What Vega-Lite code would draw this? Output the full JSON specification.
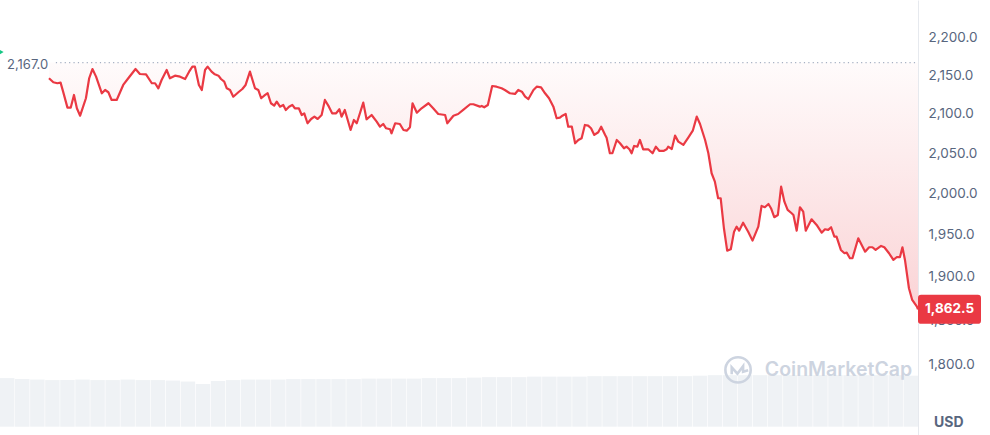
{
  "$schema": "https://vega.github.io/schema/vega-lite/v6.json",
  "width": 918,
  "height": 435,
  "padding": 0,
  "background": "white",
  "config": {
    "view": {"stroke": null},
    "font": "Inter",
    "axis": {
      "labelColor": "#58667e",
      "labelFont": "Inter",
      "labelFontSize": 13.5,
      "gridColor": "#eceff3",
      "gridWidth": 1,
      "domainColor": "#e6e9ee",
      "ticks": false,
      "tickSize": 0,
      "labelPadding": 10
    }
  },
  "datasets": {
    "price": [
      {"t":0,"p":2146.3},{"t":0.12,"p":2141.0},{"t":0.23,"p":2139.7},{"t":0.32,"p":2140.5},{"t":0.39,"p":2128.7},
      {"t":0.51,"p":2107.9},{"t":0.60,"p":2107.9},{"t":0.69,"p":2124.4},{"t":0.77,"p":2107.1},{"t":0.86,"p":2097.5},
      {"t":1.02,"p":2120.1},{"t":1.11,"p":2146.3},{"t":1.20,"p":2158.5},{"t":1.30,"p":2148.4},{"t":1.46,"p":2126.6},
      {"t":1.55,"p":2130.9},{"t":1.64,"p":2127.9},{"t":1.73,"p":2117.9},{"t":1.87,"p":2117.9},{"t":2.05,"p":2137.5},
      {"t":2.19,"p":2146.3},{"t":2.39,"p":2158.5},{"t":2.51,"p":2151.9},{"t":2.68,"p":2151.5},{"t":2.84,"p":2139.7},
      {"t":2.93,"p":2139.7},{"t":3.02,"p":2133.1},{"t":3.11,"p":2144.0},{"t":3.25,"p":2157.2},{"t":3.34,"p":2146.3},
      {"t":3.48,"p":2149.7},{"t":3.62,"p":2148.4},{"t":3.76,"p":2145.3},{"t":3.87,"p":2155.0},{"t":3.96,"p":2161.6},
      {"t":4.03,"p":2161.6},{"t":4.14,"p":2137.5},{"t":4.22,"p":2130.9},{"t":4.31,"p":2157.2},{"t":4.38,"p":2161.6},
      {"t":4.49,"p":2155.0},{"t":4.58,"p":2151.5},{"t":4.68,"p":2149.7},{"t":4.75,"p":2145.3},{"t":4.84,"p":2141.8},
      {"t":4.91,"p":2133.1},{"t":5.00,"p":2130.9},{"t":5.09,"p":2122.1},{"t":5.23,"p":2127.9},{"t":5.34,"p":2132.2},
      {"t":5.43,"p":2137.5},{"t":5.55,"p":2155.0},{"t":5.69,"p":2133.1},{"t":5.78,"p":2130.9},{"t":5.86,"p":2120.1},
      {"t":5.97,"p":2124.4},{"t":6.04,"p":2126.6},{"t":6.13,"p":2113.6},{"t":6.22,"p":2110.5},{"t":6.29,"p":2115.7},
      {"t":6.38,"p":2109.2},{"t":6.47,"p":2111.4},{"t":6.54,"p":2104.9},{"t":6.63,"p":2109.2},{"t":6.72,"p":2111.4},
      {"t":6.79,"p":2107.1},{"t":6.90,"p":2107.1},{"t":6.98,"p":2098.4},{"t":7.05,"p":2100.6},{"t":7.14,"p":2087.8},
      {"t":7.24,"p":2093.3},{"t":7.33,"p":2096.3},{"t":7.42,"p":2093.3},{"t":7.53,"p":2098.4},{"t":7.62,"p":2117.9},
      {"t":7.73,"p":2109.2},{"t":7.82,"p":2100.6},{"t":7.93,"p":2100.6},{"t":8.02,"p":2105.8},{"t":8.08,"p":2096.3},
      {"t":8.17,"p":2104.9},{"t":8.33,"p":2079.2},{"t":8.42,"p":2092.0},{"t":8.50,"p":2087.8},{"t":8.68,"p":2114.4},
      {"t":8.77,"p":2092.9},{"t":8.91,"p":2098.4},{"t":9.05,"p":2089.8},{"t":9.14,"p":2083.4},{"t":9.23,"p":2086.9},
      {"t":9.31,"p":2081.4},{"t":9.42,"p":2080.1},{"t":9.46,"p":2075.0},{"t":9.56,"p":2087.8},{"t":9.69,"p":2086.9},
      {"t":9.79,"p":2079.2},{"t":9.88,"p":2078.3},{"t":9.97,"p":2082.7},{"t":10.04,"p":2113.6},{"t":10.16,"p":2101.4},
      {"t":10.29,"p":2107.1},{"t":10.48,"p":2113.6},{"t":10.61,"p":2107.1},{"t":10.75,"p":2099.7},{"t":10.94,"p":2098.4},
      {"t":11.00,"p":2087.8},{"t":11.17,"p":2097.5},{"t":11.30,"p":2099.7},{"t":11.44,"p":2104.9},{"t":11.63,"p":2112.3},
      {"t":11.72,"p":2112.3},{"t":11.90,"p":2109.2},{"t":11.95,"p":2110.1},{"t":12.02,"p":2108.4},{"t":12.12,"p":2111.4},
      {"t":12.24,"p":2136.1},{"t":12.36,"p":2135.2},{"t":12.50,"p":2133.1},{"t":12.59,"p":2130.9},{"t":12.73,"p":2126.6},
      {"t":12.87,"p":2125.7},{"t":12.96,"p":2130.9},{"t":13.06,"p":2128.7},{"t":13.15,"p":2122.1},{"t":13.24,"p":2119.1},
      {"t":13.38,"p":2130.9},{"t":13.47,"p":2135.2},{"t":13.59,"p":2134.4},{"t":13.70,"p":2126.6},{"t":13.81,"p":2120.1},
      {"t":13.93,"p":2109.2},{"t":14.02,"p":2094.2},{"t":14.11,"p":2095.0},{"t":14.18,"p":2097.5},{"t":14.27,"p":2099.7},
      {"t":14.34,"p":2083.4},{"t":14.44,"p":2083.4},{"t":14.53,"p":2062.3},{"t":14.62,"p":2066.5},{"t":14.71,"p":2068.7},
      {"t":14.80,"p":2085.6},{"t":14.89,"p":2084.7},{"t":14.97,"p":2081.4},{"t":15.06,"p":2072.9},{"t":15.17,"p":2076.3},
      {"t":15.25,"p":2083.4},{"t":15.36,"p":2072.9},{"t":15.40,"p":2069.4},{"t":15.49,"p":2049.7},{"t":15.56,"p":2049.7},
      {"t":15.68,"p":2066.5},{"t":15.77,"p":2062.3},{"t":15.88,"p":2056.0},{"t":15.95,"p":2058.0},{"t":16.03,"p":2054.7},
      {"t":16.09,"p":2049.7},{"t":16.16,"p":2058.9},{"t":16.25,"p":2058.0},{"t":16.32,"p":2066.5},{"t":16.41,"p":2054.7},
      {"t":16.55,"p":2054.7},{"t":16.67,"p":2049.7},{"t":16.76,"p":2058.0},{"t":16.86,"p":2052.6},{"t":16.97,"p":2052.6},
      {"t":17.06,"p":2054.7},{"t":17.10,"p":2058.0},{"t":17.20,"p":2055.1},{"t":17.29,"p":2072.0},{"t":17.38,"p":2064.4},
      {"t":17.52,"p":2060.2},{"t":17.66,"p":2069.9},{"t":17.78,"p":2078.3},{"t":17.89,"p":2096.3},{"t":17.98,"p":2086.9},
      {"t":18.12,"p":2066.5},{"t":18.21,"p":2049.7},{"t":18.30,"p":2024.7},{"t":18.39,"p":2014.3},{"t":18.48,"p":1993.9},
      {"t":18.55,"p":1993.9},{"t":18.64,"p":1957.5},{"t":18.73,"p":1930.8},{"t":18.83,"p":1932.4},{"t":18.92,"p":1953.4},
      {"t":18.99,"p":1959.4},{"t":19.06,"p":1954.6},{"t":19.17,"p":1964.2},{"t":19.31,"p":1953.4},{"t":19.43,"p":1942.7},
      {"t":19.59,"p":1959.4},{"t":19.68,"p":1984.5},{"t":19.77,"p":1982.9},{"t":19.87,"p":1986.9},{"t":19.94,"p":1981.7},
      {"t":20.03,"p":1970.8},{"t":20.13,"p":1973.5},{"t":20.22,"p":2008.1},{"t":20.31,"p":1989.7},{"t":20.40,"p":1979.6},
      {"t":20.51,"p":1975.6},{"t":20.56,"p":1973.5},{"t":20.65,"p":1954.6},{"t":20.74,"p":1982.9},{"t":20.83,"p":1977.6},
      {"t":20.90,"p":1954.6},{"t":21.06,"p":1968.3},{"t":21.20,"p":1961.5},{"t":21.34,"p":1952.2},{"t":21.43,"p":1956.3},
      {"t":21.52,"p":1955.5},{"t":21.60,"p":1958.7},{"t":21.69,"p":1947.4},{"t":21.75,"p":1947.4},{"t":21.87,"p":1931.6},
      {"t":21.97,"p":1927.7},{"t":22.03,"p":1928.4},{"t":22.12,"p":1921.8},{"t":22.19,"p":1921.8},{"t":22.35,"p":1945.5},
      {"t":22.54,"p":1929.6},{"t":22.65,"p":1934.8},{"t":22.74,"p":1934.8},{"t":22.83,"p":1931.6},{"t":22.98,"p":1936.4},
      {"t":23.07,"p":1934.8},{"t":23.20,"p":1927.7},{"t":23.32,"p":1919.8},{"t":23.41,"p":1923.0},{"t":23.50,"p":1923.0},
      {"t":23.57,"p":1934.8},{"t":23.64,"p":1919.8},{"t":23.75,"p":1886.7},{"t":23.84,"p":1873.2},{"t":23.97,"p":1865.6},
      {"t":24.0,"p":1862.5}
    ],
    "vol": [
      {"i":0,"v":0.99},{"i":1,"v":0.97},{"i":2,"v":0.96},{"i":3,"v":0.95},{"i":4,"v":0.95},{"i":5,"v":0.96},
      {"i":6,"v":0.95},{"i":7,"v":0.95},{"i":8,"v":0.96},{"i":9,"v":0.95},{"i":10,"v":0.95},{"i":11,"v":0.94},
      {"i":12,"v":0.92},{"i":13,"v":0.87},{"i":14,"v":0.93},{"i":15,"v":0.95},{"i":16,"v":0.96},{"i":17,"v":0.96},
      {"i":18,"v":0.96},{"i":19,"v":0.97},{"i":20,"v":0.97},{"i":21,"v":0.97},{"i":22,"v":0.97},{"i":23,"v":0.97},
      {"i":24,"v":0.98},{"i":25,"v":0.98},{"i":26,"v":0.98},{"i":27,"v":0.98},{"i":28,"v":0.99},{"i":29,"v":0.99},
      {"i":30,"v":0.99},{"i":31,"v":1.0},{"i":32,"v":1.01},{"i":33,"v":1.01},{"i":34,"v":1.01},{"i":35,"v":1.02},
      {"i":36,"v":1.02},{"i":37,"v":1.02},{"i":38,"v":1.02},{"i":39,"v":1.03},{"i":40,"v":1.03},{"i":41,"v":1.03},
      {"i":42,"v":1.03},{"i":43,"v":1.03},{"i":44,"v":1.03},{"i":45,"v":1.03},{"i":46,"v":1.04},{"i":47,"v":1.05},
      {"i":48,"v":1.05},{"i":49,"v":1.05},{"i":50,"v":1.05},{"i":51,"v":1.05},{"i":52,"v":1.05},{"i":53,"v":1.05},
      {"i":54,"v":1.05},{"i":55,"v":1.05},{"i":56,"v":1.05},{"i":57,"v":1.05},{"i":58,"v":1.05},{"i":59,"v":1.05},
      {"i":60,"v":1.04}
    ],
    "one": [{"k": 1}]
  },
  "layer": [
    {
      "data": {"name": "vol"},
      "mark": {"type": "bar", "color": "#eff2f5"},
      "encoding": {
        "x": {"field": "i", "type": "ordinal", "axis": null, "scale": {"paddingInner": 0.04, "paddingOuter": 0}},
        "y": {"field": "v", "type": "quantitative", "axis": null, "scale": {"domain": [-0.17, 8.7], "nice": false, "zero": false}},
        "y2": {"datum": 0}
      }
    },
    {
      "layer": [
        {
          "data": {"name": "price"},
          "mark": {
            "type": "area",
            "color": {
              "x1": 0, "y1": 0, "x2": 0, "y2": 1,
              "gradient": "linear",
              "stops": [
                {"offset": 0, "color": "rgba(234,57,67,0.02)"},
                {"offset": 1, "color": "rgba(234,57,67,0.22)"}
              ]
            }
          },
          "encoding": {
            "x": {"field": "t", "type": "quantitative", "axis": null, "scale": {"domain": [-1.353, 24], "nice": false, "zero": false}},
            "y": {
              "field": "p", "type": "quantitative",
              "scale": {"type": "log", "domain": [1724.2, 2251.9], "nice": false, "zero": false},
              "axis": {"orient": "right", "title": null, "values": [1800, 1850, 1900, 1950, 2000, 2050, 2100, 2150, 2200], "format": ",.1f"}
            },
            "y2": {"datum": 2167}
          }
        },
        {
          "data": {"name": "one"},
          "mark": {"type": "rule", "color": "#a6b0c3", "strokeDash": [1.2, 3.2], "strokeWidth": 1.2},
          "encoding": {
            "x": {"datum": 0.19, "type": "quantitative", "axis": null},
            "x2": {"datum": 24},
            "y": {"datum": 2167, "type": "quantitative", "axis": {"orient": "right", "title": null, "values": [1800, 1850, 1900, 1950, 2000, 2050, 2100, 2150, 2200], "format": ",.1f"}}
          }
        },
        {
          "data": {"name": "price"},
          "mark": {"type": "line", "color": "#ea3943", "strokeWidth": 2.2, "strokeJoin": "round"},
          "encoding": {
            "x": {"field": "t", "type": "quantitative", "axis": null},
            "y": {"field": "p", "type": "quantitative", "axis": {"orient": "right", "title": null, "values": [1800, 1850, 1900, 1950, 2000, 2050, 2100, 2150, 2200], "format": ",.1f"}}
          }
        },
        {
          "data": {"name": "one"},
          "mark": {"type": "text", "text": "2,167.0", "align": "left", "baseline": "middle", "dy": 2, "fontSize": 13, "color": "#58667e"},
          "encoding": {
            "x": {"datum": -1.16, "type": "quantitative", "axis": null},
            "y": {"datum": 2167, "type": "quantitative", "axis": {"orient": "right", "title": null, "values": [1800, 1850, 1900, 1950, 2000, 2050, 2100, 2150, 2200], "format": ",.1f"}}
          }
        },
        {
          "data": {"name": "one"},
          "mark": {"type": "point", "shape": "triangle-right", "size": 70, "filled": true, "color": "#16c784", "opacity": 1, "clip": true},
          "encoding": {
            "x": {"datum": -1.353, "type": "quantitative", "axis": null},
            "y": {"datum": 2181, "type": "quantitative", "axis": {"orient": "right", "title": null, "values": [1800, 1850, 1900, 1950, 2000, 2050, 2100, 2150, 2200], "format": ",.1f"}}
          }
        },
        {
          "data": {"name": "one"},
          "mark": {
            "type": "point",
            "shape": "M0.1,-0.46H1.9Q2,-0.46 2,-0.36V0.36Q2,0.46 1.9,0.46H0.1Q0,0.46 0,0.36V-0.36Q0,-0.46 0.1,-0.46Z",
            "size": 3969, "filled": true, "color": "#ea3943", "opacity": 1
          },
          "encoding": {
            "x": {"datum": 24, "type": "quantitative", "axis": null},
            "y": {"datum": 1862.5, "type": "quantitative", "axis": {"orient": "right", "title": null, "values": [1800, 1850, 1900, 1950, 2000, 2050, 2100, 2150, 2200], "format": ",.1f"}}
          }
        },
        {
          "data": {"name": "one"},
          "mark": {"type": "text", "text": "1,862.5", "align": "center", "baseline": "middle", "dx": 31.5, "fontSize": 13.5, "fontWeight": "bold", "color": "white"},
          "encoding": {
            "x": {"datum": 24, "type": "quantitative", "axis": null},
            "y": {"datum": 1862.5, "type": "quantitative", "axis": {"orient": "right", "title": null, "values": [1800, 1850, 1900, 1950, 2000, 2050, 2100, 2150, 2200], "format": ",.1f"}}
          }
        },
        {
          "data": {"name": "one"},
          "mark": {"type": "text", "text": "USD", "align": "left", "baseline": "middle", "dx": 16, "fontSize": 14, "fontWeight": "bold", "color": "#58667e"},
          "encoding": {
            "x": {"datum": 24, "type": "quantitative", "axis": null},
            "y": {"datum": 1737.1, "type": "quantitative", "axis": {"orient": "right", "title": null, "values": [1800, 1850, 1900, 1950, 2000, 2050, 2100, 2150, 2200], "format": ",.1f"}}
          }
        },
        {
          "data": {"name": "one"},
          "mark": {"type": "text", "text": "CoinMarketCap", "align": "left", "baseline": "middle", "fontSize": 19.5, "fontWeight": 600, "color": "#cdd4e0"},
          "encoding": {
            "x": {"datum": 19.77, "type": "quantitative", "axis": null},
            "y": {"datum": 1794.5, "type": "quantitative", "axis": {"orient": "right", "title": null, "values": [1800, 1850, 1900, 1950, 2000, 2050, 2100, 2150, 2200], "format": ",.1f"}}
          }
        },
        {
          "data": {"name": "one"},
          "mark": {"type": "point", "shape": "circle", "size": 640, "filled": false, "color": "#cdd4e0", "strokeWidth": 2.6, "opacity": 1},
          "encoding": {
            "x": {"datum": 19.03, "type": "quantitative", "axis": null},
            "y": {"datum": 1794.5, "type": "quantitative", "axis": {"orient": "right", "title": null, "values": [1800, 1850, 1900, 1950, 2000, 2050, 2100, 2150, 2200], "format": ",.1f"}}
          }
        },
        {
          "data": {"name": "one"},
          "mark": {"type": "point", "shape": "M-0.5,0.35L-0.5,-0.2L-0.05,0.3L0.4,-0.3L0.4,0.15L0.8,0.02", "size": 640, "filled": false, "color": "#cdd4e0", "strokeWidth": 2.6, "opacity": 1},
          "encoding": {
            "x": {"datum": 19.03, "type": "quantitative", "axis": null},
            "y": {"datum": 1794.5, "type": "quantitative", "axis": {"orient": "right", "title": null, "values": [1800, 1850, 1900, 1950, 2000, 2050, 2100, 2150, 2200], "format": ",.1f"}}
          }
        }
      ]
    }
  ],
  "resolve": {"scale": {"x": "independent", "y": "independent"}}
}
